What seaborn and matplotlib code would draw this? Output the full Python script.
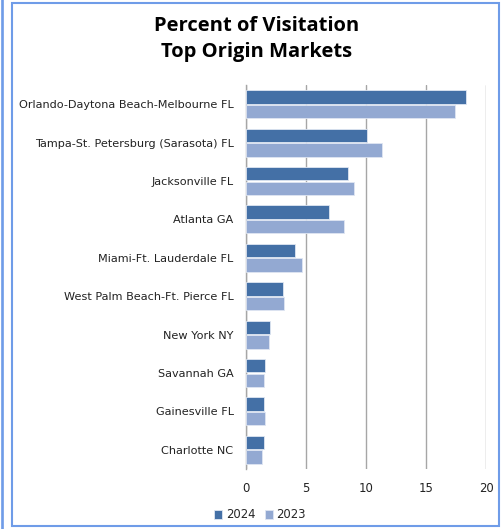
import pandas as pd
import matplotlib.pyplot as plt
import seaborn as sns
from matplotlib.patches import Rectangle

# Dados
mercados = [
    'Orlando-Daytona Beach-Melbourne FL',
    'Tampa-St. Petersburg (Sarasota) FL',
    'Jacksonville FL',
    'Atlanta GA',
    'Miami-Ft. Lauderdale FL',
    'West Palm Beach-Ft. Pierce FL',
    'New York NY',
    'Savannah GA',
    'Gainesville FL',
    'Charlotte NC',
]
valores_2024 = [18.3, 10.1, 8.5, 6.9, 4.1, 3.1, 2.0, 1.6, 1.5, 1.5]
valores_2023 = [17.4, 11.3, 9.0, 8.2, 4.7, 3.2, 1.9, 1.5, 1.6, 1.3]
anos = ['2024', '2023']
cores = ['#4470a6', '#93a9d2']

df = pd.DataFrame({
    'mercado': mercados * 2,
    'valor': valores_2024 + valores_2023,
    'ano': [anos[0]] * len(mercados) + [anos[1]] * len(mercados),
})

sns.set_style('white')
plt.rcParams['font.family'] = ['DejaVu Sans']

fig = plt.figure(figsize=(5.01, 5.29), dpi=100)
ax = fig.add_axes([246 / 501, 1 - 469 / 529, 240 / 501, 384 / 529])

sns.barplot(data=df, x='valor', y='mercado', hue='ano', hue_order=anos,
            palette=cores, saturation=1, orient='h', width=0.76, gap=0.08,
            edgecolor='#dfe6f2', linewidth=0.6, ax=ax, zorder=3)

ax.set_xlim(0, 20)
ax.set_xticks([0, 5, 10, 15, 20])
ax.grid(axis='x', color='#a6a6a6', linewidth=1.0, zorder=0)
ax.set_xlabel('')
ax.set_ylabel('')
for lado in ['top', 'right', 'bottom']:
    ax.spines[lado].set_visible(False)
ax.spines['left'].set_color('#a6a6a6')
ax.spines['left'].set_linewidth(1.0)
ax.tick_params(axis='y', length=0, pad=9, labelsize=8.1, labelcolor='#222222')
ax.tick_params(axis='x', length=0, pad=9, labelsize=8.4, labelcolor='#222222')

leg = ax.legend(loc='center', bbox_to_anchor=(260 / 501, 1 - 515 / 529),
                bbox_transform=fig.transFigure, ncol=2, frameon=False,
                fontsize=8.4, handlelength=0.7, handleheight=0.7,
                handletextpad=0.3, columnspacing=0.8)

fig.text(257 / 501, 1 - 39 / 529, 'Percent of Visitation\nTop Origin Markets',
         ha='center', va='center', fontsize=14.5, fontweight='bold',
         color='black', family=['Open Sans', 'DejaVu Sans'], linespacing=1.38)

# Moldura azul
fig.patches.append(Rectangle((12 / 501, 3 / 529), 487 / 501, 523 / 529,
                             transform=fig.transFigure, fill=False,
                             edgecolor='#6f9ce8', linewidth=1.5))
fig.patches.append(Rectangle((2 / 501, 0), 0.001, 1,
                             transform=fig.transFigure, fill=False,
                             edgecolor='#6f9ce8', linewidth=1.2))

fig.savefig('out.png', dpi=100)
